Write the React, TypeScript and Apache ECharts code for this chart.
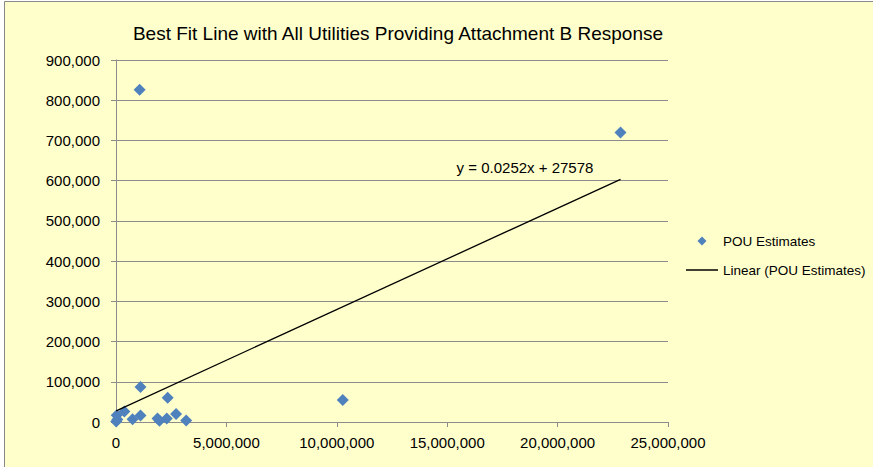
import React, { useEffect, useRef } from "react";
import * as echarts from "echarts";

const TITLE = "Best Fit Line with All Utilities Providing Attachment B Response";
const SERIES_NAME = "POU Estimates";
const TREND_NAME = "Linear (POU Estimates)";
const EQUATION = "y = 0.0252x + 27578";
const SLOPE = 0.0252;
const INTERCEPT = 27578;

const xValues = [
  1070000, 22850000, 10270000, 1110000, 2340000, 30000, 10000, 60000, 380000,
  750000, 1110000, 1880000, 1970000, 2300000, 2720000, 3180000,
];
const yValues = [
  826000, 720000, 55000, 87000, 60000, 17000, 1000, 6000, 26000,
  7000, 16000, 9000, 3000, 9000, 20000, 4000,
];

const X_MIN = 0;
const X_MAX = 25000000;
const X_STEP = 5000000;
const Y_MIN = 0;
const Y_MAX = 900000;
const Y_STEP = 100000;

const fmt = (v: number) => v.toLocaleString("en-US");

export default function App() {
  const ref = useRef<HTMLDivElement>(null);
  useEffect(() => {
    if (!ref.current) return;
    const chart = echarts.init(ref.current, undefined, { renderer: "svg" });
    const points = xValues.map((x, i) => [x, yValues[i]]);
    const xLo = Math.min(...xValues);
    const xHi = Math.max(...xValues);
    const trend = [
      [xLo, SLOPE * xLo + INTERCEPT],
      [xHi, SLOPE * xHi + INTERCEPT],
    ];
    const font = "'Liberation Sans', Arial, sans-serif";
    const grey = "#8c8c8c";
    const blue = "#4F81BD";
    chart.setOption({
      animation: false,
      backgroundColor: "#ffffff",
      textStyle: { fontFamily: font },
      graphic: [
        {
          type: "rect",
          z: -10,
          silent: true,
          shape: { x: 4.5, y: 1.5, width: 900, height: 500 },
          style: { fill: "#FFFFCC", stroke: "#8a8a8a", lineWidth: 1 },
        },
        {
          type: "text",
          x: 398,
          y: 33,
          style: {
            text: TITLE,
            fontFamily: font,
            fontSize: 19,
            fill: "#000000",
            textAlign: "center",
            textVerticalAlign: "middle",
          },
        },
        {
          type: "text",
          x: 525,
          y: 167,
          style: {
            text: EQUATION,
            fontFamily: font,
            fontSize: 15,
            fill: "#000000",
            textAlign: "center",
            textVerticalAlign: "middle",
          },
        },
        {
          type: "polygon",
          shape: { points: [[702, 236.5], [706.5, 241], [702, 245.5], [697.5, 241]] },
          style: { fill: blue },
        },
        {
          type: "text",
          x: 723,
          y: 241,
          style: {
            text: SERIES_NAME,
            fontFamily: font,
            fontSize: 13.5,
            fill: "#000",
            textAlign: "left",
            textVerticalAlign: "middle",
          },
        },
        {
          type: "line",
          shape: { x1: 686, y1: 270, x2: 718, y2: 270 },
          style: { stroke: "#000", lineWidth: 1.5 },
        },
        {
          type: "text",
          x: 723,
          y: 270,
          style: {
            text: TREND_NAME,
            fontFamily: font,
            fontSize: 13.5,
            fill: "#000",
            textAlign: "left",
            textVerticalAlign: "middle",
          },
        },
      ],
      grid: { left: 116, right: 205, top: 60, bottom: 45, containLabel: false },
      xAxis: {
        type: "value",
        min: X_MIN,
        max: X_MAX,
        interval: X_STEP,
        splitLine: { show: false },
        axisLine: { show: true, lineStyle: { color: grey, width: 1 } },
        axisTick: { show: true, inside: false, length: 5, lineStyle: { color: grey } },
        axisLabel: {
          margin: 13,
          fontFamily: font,
          fontSize: 15,
          color: "#000",
          formatter: (v: number) => fmt(v),
        },
      },
      yAxis: {
        type: "value",
        min: Y_MIN,
        max: Y_MAX,
        interval: Y_STEP,
        splitLine: { show: true, lineStyle: { color: grey, width: 1 } },
        axisLine: { show: true, lineStyle: { color: grey, width: 1 } },
        axisTick: { show: true, inside: false, length: 5, lineStyle: { color: grey } },
        axisLabel: {
          margin: 16,
          fontFamily: font,
          fontSize: 15,
          color: "#000",
          formatter: (v: number) => fmt(v),
        },
      },
      series: [
        {
          name: SERIES_NAME,
          type: "scatter",
          symbol: "diamond",
          symbolSize: 12,
          itemStyle: { color: blue, opacity: 1 },
          data: points,
          z: 2,
        },
        {
          name: TREND_NAME,
          type: "line",
          symbol: "none",
          lineStyle: { color: "#000000", width: 1.3 },
          data: trend,
          z: 3,
        },
      ],
    });
    return () => chart.dispose();
  }, []);
  return (
    <div
      ref={ref}
      style={{ position: "absolute", left: 0, top: 0, width: 873, height: 467 }}
    />
  );
}
